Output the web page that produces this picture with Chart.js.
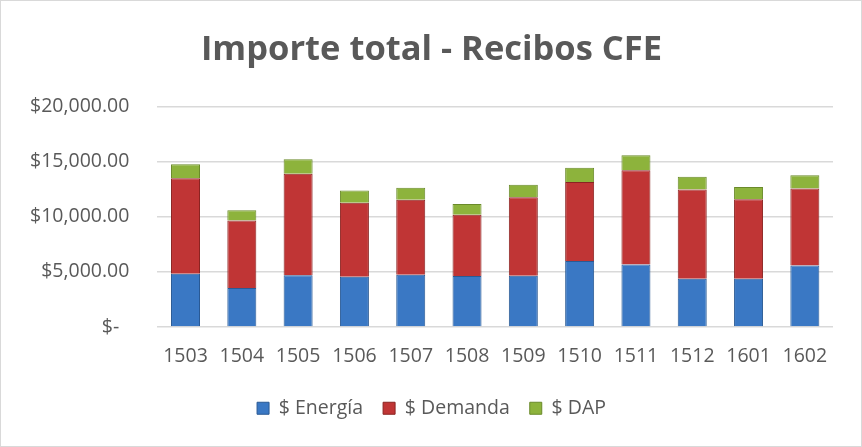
<!DOCTYPE html>
<html><head><meta charset="utf-8">
<script src="https://cdn.jsdelivr.net/npm/chart.js@4/dist/chart.umd.min.js"></script>
<style>
html,body{margin:0;padding:0;background:#fff;}
#wrap{position:absolute;left:0;top:0;width:860px;height:445px;border:1px solid #d9d9d9;}
</style></head>
<body><div id="wrap"><canvas id="c" width="860" height="445"></canvas></div>
<script>
const categories = ["1503","1504","1505","1506","1507","1508","1509","1510","1511","1512","1601","1602"];
const energia = [4830,3540,4710,4560,4740,4620,4650,6000,5670,4380,4380,5580];
const demanda = [8670,6120,9180,6720,6810,5550,7110,7140,8550,8100,7200,6990];
const dap = [1260,930,1320,1110,1080,990,1140,1290,1350,1140,1110,1200];
const yTicks = [0,5000,10000,15000,20000];

function grad(ctx, dark, mid, light){
  const c = ctx.chart; const el = ctx.element;
  if(!el || el.x===undefined || !isFinite(el.x)) return mid;
  const w = el.width || 29; const x0 = el.x - w/2, x1 = el.x + w/2;
  const g = c.ctx.createLinearGradient(x0,0,x1,0);
  g.addColorStop(0, dark); g.addColorStop(0.12, mid); g.addColorStop(0.5, light); g.addColorStop(0.88, mid); g.addColorStop(1, dark);
  return g;
}
const font = "'Open Sans', 'Liberation Sans', sans-serif";
new Chart(document.getElementById('c'), {
  type:'bar',
  data:{
    labels: categories,
    datasets:[
      {label:'$ Energía', data:energia, backgroundColor:(ctx)=>grad(ctx,'#2c5f9e','#3a78c4','#4a8ad6'), borderColor:'#2a5a94', borderWidth:1},
      {label:'$ Demanda', data:demanda, backgroundColor:(ctx)=>grad(ctx,'#8e2423','#c03535','#cf4444'), borderColor:'#8a2422', borderWidth:1},
      {label:'$ DAP', data:dap, backgroundColor:(ctx)=>grad(ctx,'#6a8a2a','#8db33c','#9fc44c'), borderColor:'#6a8a2a', borderWidth:1}
    ]
  },
  options:{
    responsive:false, animation:false,
    layout:{padding:{left:1,right:0,top:28,bottom:18}},
    datasets:{bar:{categoryPercentage:1, barPercentage:0.515}},
    plugins:{
      title:{display:true, text:'Importe total - Recibos CFE', color:'#595959', font:{family:font, size:34.5, weight:'bold'}, padding:{top:0,bottom:36}},
      legend:{position:'bottom', labels:{color:'#595959', font:{family:font, size:19.5}, boxWidth:12, boxHeight:12, padding:20,
        generateLabels:(chart)=>{
          const cols=['#3a78c4','#c03535','#8db33c']; const bc=['#2a5a94','#8a2422','#6a8a2a'];
          return chart.data.datasets.map((d,i)=>({text:d.label, fillStyle:cols[i], strokeStyle:bc[i], lineWidth:1, fontColor:'#595959', datasetIndex:i, hidden:false}));
        }}},
      tooltip:{enabled:false}
    },
    scales:{
      x:{stacked:true, grid:{display:false}, border:{display:false}, ticks:{color:'#595959', font:{family:font, size:19.5}, padding:10}},
      y:{stacked:true, min:0, max:20000, afterBuildTicks:(ax)=>{ax.ticks = yTicks.map(v=>({value:v}));},
        grid:{color:'#d9d9d9', lineWidth:1.5, drawTicks:false}, border:{display:false},
        ticks:{color:'#595959', font:{family:font, size:19.5}, padding:28,
          callback:(v)=> v===0 ? '$-  ' : '$' + Number(v).toLocaleString('en-US',{minimumFractionDigits:2, maximumFractionDigits:2})}},
      yr:{position:'right', min:0, max:20000, grid:{display:false}, border:{display:false}, ticks:{display:false},
        afterFit:(s)=>{s.width = 28;}}
    }
  }
});
</script></body></html>
